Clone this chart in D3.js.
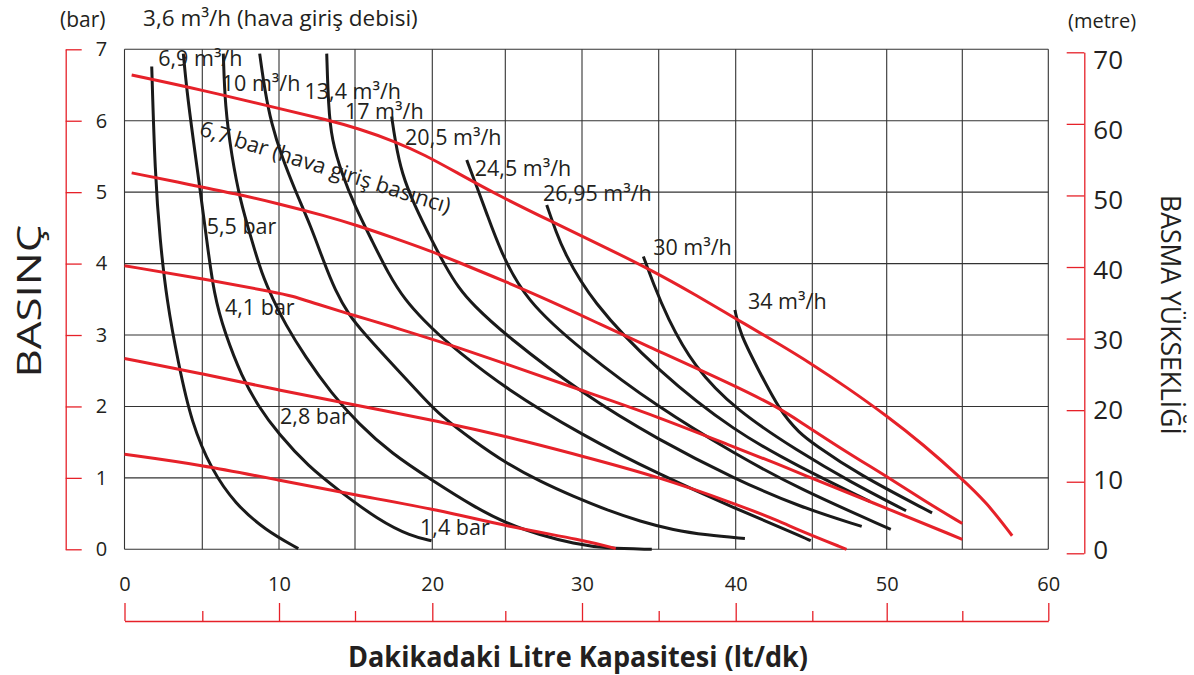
<!DOCTYPE html>
<html>
<head>
<meta charset="utf-8">
<script src="https://cdnjs.cloudflare.com/ajax/libs/d3/7.8.5/d3.min.js"></script>
<style>
  body { margin: 0; background: #fff; }
  svg text { font-family: "Open Sans", sans-serif; fill: #231f20; }
</style>
</head>
<body>
<svg id="chart" width="1194" height="675"></svg>
<script>

// axis ticks
const xTicks = [0, 10, 20, 30, 40, 50, 60];
const xMinor = [5, 15, 25, 35, 45, 55];
const barTicks = [0, 1, 2, 3, 4, 5, 6, 7];
const metreTicks = [0, 10, 20, 30, 40, 50, 60, 70];

// air flow curves, [lt/dk, bar]
const q36 = [[1.75,6.76],[1.96,5.26],[2.28,4.33],[2.71,3.49],[3.46,2.60],[4.32,1.76],[5.61,1.11],[7.13,0.64],[9.09,0.27],[11.27,0.01]];
const q69 = [[3.78,6.94],[4.0,6.43],[4.42,5.73],[4.86,5.03],[5.29,4.33],[5.76,3.56],[6.48,3.02],[7.57,2.42],[8.65,2.0],[9.95,1.62],[11.93,1.16],[13.9,0.83],[16.5,0.41],[18.65,0.18],[19.95,0.12]];
const q10 = [[6.37,6.94],[6.48,6.20],[6.92,5.50],[7.46,4.89],[8.22,4.33],[8.87,3.86],[9.63,3.49],[10.39,3.16],[11.71,2.70],[13.46,2.18],[15.21,1.76],[17.37,1.34],[19.96,0.97],[22.81,0.60],[25.09,0.36],[27.26,0.20],[29.43,0.08],[31.61,0.01],[34.55,0.0]];
const q134 = [[8.74,6.94],[9.07,6.43],[9.5,5.96],[10.18,5.5],[11.05,5.03],[12.1,4.52],[12.9,4.05],[13.7,3.62],[14.6,3.28],[15.6,3.02],[17.37,2.60],[19.52,2.10],[20.52,1.88],[22.81,1.52],[25.09,1.20],[27.26,0.95],[29.43,0.74],[31.61,0.55],[33.8,0.39],[35.95,0.27],[38.11,0.20],[40.6,0.15]];
const q17 = [[13.14,6.94],[13.25,6.2],[13.47,5.73],[14.13,5.26],[15.0,4.80],[16.08,4.33],[17.15,3.86],[18.23,3.49],[19.52,3.19],[20.52,2.99],[21.54,2.81],[25,2.25],[30,1.60],[35,1.05],[40,0.57],[44.1,0.20],[44.9,0.12]];
const q205 = [[17.37,6.06],[17.59,5.73],[18.02,5.26],[18.88,4.80],[19.96,4.33],[20.9,3.96],[21.8,3.66],[22.8,3.42],[25,3.0],[30,2.18],[35,1.53],[40,0.98],[44.1,0.60],[48.32,0.32]];
const q245 = [[22.36,5.45],[23.04,5.08],[23.73,4.70],[24.64,4.19],[26.28,3.49],[30,2.78],[35,1.98],[40,1.33],[44.1,0.85],[50.27,0.28]];
const q2695 = [[27.7,4.82],[28.35,4.42],[28.78,4.19],[30.52,3.49],[35,2.48],[40,1.64],[44.1,1.16],[48.87,0.67]];
const q30 = [[34.0,4.10],[34.65,3.72],[35.52,3.26],[37.26,2.56],[40,1.95],[44.1,1.37],[47.5,0.95],[51.28,0.54]];
const q34 = [[39.95,3.35],[40.28,3.02],[41.37,2.56],[42.89,1.93],[44.2,1.62],[45.07,1.48],[48,1.06],[53.0,0.51]];

// air inlet pressure curves, [lt/dk, bar]
const p67 = [[0.46,6.64],[5,6.43],[10,6.17],[13.24,6.01],[15.21,5.89],[17.59,5.71],[19.52,5.52],[21.54,5.29],[24.46,4.96],[28,4.59],[31.4,4.24],[34.6,3.90],[37.5,3.55],[40.07,3.22],[42.8,2.88],[45,2.59],[47.3,2.27],[50,1.87],[52.4,1.47],[54.96,0.99],[56.4,0.66],[57.9,0.19]];
const p55 = [[0.46,5.27],[4.32,5.10],[7.13,4.98],[9.95,4.84],[13.03,4.67],[15.21,4.53],[17.37,4.37],[19.96,4.17],[21.54,4.04],[25.1,3.74],[27.9,3.48],[31.0,3.17],[33.8,2.89],[40.07,2.28],[42.89,1.97],[44.1,1.80],[47.3,1.36],[50.0,1.02],[52.4,0.69],[55.0,0.36]];
const p41 = [[0,3.97],[4.96,3.79],[9.95,3.59],[10.8,3.55],[12.4,3.44],[15.0,3.27],[17.37,3.12],[20.0,2.94],[21.54,2.84],[25.0,2.60],[29.9,2.23],[34.9,1.86],[39.8,1.44],[42.9,1.18],[44.1,1.07],[48.87,0.67],[55.0,0.14]];
const p28 = [[0,2.67],[4.96,2.46],[9.95,2.23],[15.0,2.02],[20.52,1.79],[25.09,1.58],[30.1,1.30],[34.9,1.02],[39.95,0.64],[42.9,0.39],[44.1,0.27],[47.3,0.0]];
const p14 = [[0,1.33],[4.96,1.18],[9.95,0.97],[15.0,0.76],[20.52,0.55],[25.09,0.32],[30.1,0.13],[32.2,0.01]];

const flowCurves = [q36, q69, q10, q134, q17, q205, q245, q2695, q30, q34];
const pressureCurves = [p67, p55, p41, p28, p14];

// curve labels: text, anchor [lt/dk, bar]
const flowLabels = [
  ["6,9 m³/h", 2.17, 6.77],
  ["10 m³/h", 6.27, 6.41],
  ["13,4 m³/h", 11.68, 6.31],
  ["17 m³/h", 14.34, 6.03],
  ["20,5 m³/h", 18.24, 5.66],
  ["24,5 m³/h", 22.91, 5.22],
  ["26,95 m³/h", 27.46, 4.87],
  ["30 m³/h", 34.64, 4.12],
  ["34 m³/h", 40.8, 3.37]
];
const firstFlowLabel = ["3,6 m³/h (hava giriş debisi)", 1.19, 7.33];
const pressureLabels = [
  ["5,5 bar", 5.29, 4.42],
  ["4,1 bar", 6.48, 3.28],
  ["2,8 bar", 10.07, 1.76],
  ["1,4 bar", 19.21, 0.2]
];
const topPressureLabel = ["6,7 bar (hava giriş basıncı)", 4.74, 5.8];

const red = "#e62129";
const ink = "#231f20";

const svg = d3.select("#chart");

// the printed grid is not quite even, so the x scale follows its lines
const xStops = d3.range(0, 61, 5);
const x = d3.scaleLinear()
    .domain(xStops)
    .range([124.5, 202.3, 279, 355, 432.3, 505.3, 582, 658.7, 735.7, 812.3, 886.7, 962.3, 1048.3]);
const y = d3.scaleLinear().domain([0, 7]).range([549.3, 49.3]);
const yM = d3.scaleLinear().domain([0, 70]).range([553.3, 52.3]);
// metre labels sit on a slightly tighter spacing than their ticks
const yMText = d3.scaleLinear().domain([0, 70]).range([550, 60]);

// grid
const grid = svg.append("g").attr("stroke", "#333").attr("stroke-width", 1.1);
grid.selectAll(".v").data(xStops).join("line")
    .attr("x1", d => x(d)).attr("x2", d => x(d))
    .attr("y1", y(0)).attr("y2", y(7));
grid.selectAll(".h").data(barTicks).join("line")
    .attr("x1", x(0)).attr("x2", x(60))
    .attr("y1", d => y(d)).attr("y2", d => y(d));

// left axis (bar)
const left = svg.append("g")
    .attr("transform", "translate(65.7,0)")
    .call(d3.axisRight(y).tickValues(barTicks).tickFormat(d3.format("d"))
        .tickSize(16).tickPadding(14).tickSizeOuter(0));
// right axis (metre)
const right = svg.append("g")
    .attr("transform", "translate(1084.3,0)")
    .call(d3.axisRight(yM).tickValues(metreTicks).tickSize(-17.6).tickFormat("").tickSizeOuter(0));
const rightText = svg.append("g")
    .attr("transform", "translate(1084.3,0)")
    .call(d3.axisRight(yMText).tickValues(metreTicks).tickSize(0).tickPadding(9));
rightText.select(".domain").remove();
rightText.selectAll("line").remove();
// bottom bracket
const bracket = svg.append("g")
    .attr("transform", "translate(0,621)")
    .call(d3.axisBottom(x).tickValues(xTicks).tickSize(-18).tickFormat("").tickSizeOuter(0));
const bracketMinor = svg.append("g")
    .attr("transform", "translate(0,621)")
    .call(d3.axisBottom(x).tickValues(xMinor).tickSize(-10).tickFormat("").tickSizeOuter(0));
bracketMinor.select(".domain").remove();
// bottom labels
const bottom = svg.append("g")
    .attr("transform", `translate(0,${y(0)})`)
    .call(d3.axisBottom(x).tickValues(xTicks).tickSize(0).tickPadding(28));
bottom.select(".domain").remove();

[left, right, bracket, bracketMinor].forEach(g => {
  g.selectAll("path, line").attr("stroke", red).attr("stroke-width", 1.3);
});
[left, rightText, bottom].forEach(g => {
  g.selectAll("text").attr("fill", ink).style("font-family", "'Open Sans', sans-serif");
});
left.selectAll("text").style("font-size", "20px");
bottom.selectAll("text").style("font-size", "20px");
rightText.selectAll("text").style("font-size", "26px");

// curves
const line = d3.line()
    .x(d => x(d[0]))
    .y(d => y(d[1]))
    .curve(d3.curveBasis);

svg.append("g").selectAll("path").data(flowCurves).join("path")
    .attr("d", line)
    .attr("fill", "none")
    .attr("stroke", "#1a1a1a")
    .attr("stroke-width", 3);

svg.append("g").selectAll("path").data(pressureCurves).join("path")
    .attr("d", line)
    .attr("fill", "none")
    .attr("stroke", red)
    .attr("stroke-width", 3);

// labels
svg.append("g").selectAll("text").data(flowLabels.concat(pressureLabels)).join("text")
    .attr("x", d => x(d[1]))
    .attr("y", d => y(d[2]))
    .style("font-size", "21.5px")
    .text(d => d[0]);

svg.append("text")
    .attr("x", x(firstFlowLabel[1]))
    .attr("y", y(firstFlowLabel[2]))
    .style("font-size", "22.5px")
    .text(firstFlowLabel[0]);

svg.append("text")
    .attr("transform", `translate(${x(topPressureLabel[1])},${y(topPressureLabel[2])}) rotate(17.5)`)
    .style("font-size", "21.8px")
    .text(topPressureLabel[0]);

// axis titles
svg.append("text").attr("x", 60).attr("y", 27).style("font-size", "21px").text("(bar)");
svg.append("text").attr("x", 1068).attr("y", 28).style("font-size", "20px").text("(metre)");

svg.append("text")
    .attr("transform", "translate(28,301) rotate(-90)")
    .attr("text-anchor", "middle")
    .attr("dominant-baseline", "central")
    .attr("textLength", 153)
    .attr("lengthAdjust", "spacingAndGlyphs")
    .style("font-size", "33px")
    .text("BASINÇ");

svg.append("text")
    .attr("transform", "translate(1172,315) rotate(90)")
    .attr("text-anchor", "middle")
    .attr("dominant-baseline", "central")
    .attr("textLength", 240)
    .attr("lengthAdjust", "spacingAndGlyphs")
    .style("font-size", "28px")
    .text("BASMA YÜKSEKLİĞİ");

svg.append("text")
    .attr("x", 578)
    .attr("y", 667)
    .attr("text-anchor", "middle")
    .attr("textLength", 460)
    .attr("lengthAdjust", "spacingAndGlyphs")
    .style("font-size", "29px")
    .style("font-weight", "bold")
    .text("Dakikadaki Litre Kapasitesi (lt/dk)");

</script>
</body>
</html>
